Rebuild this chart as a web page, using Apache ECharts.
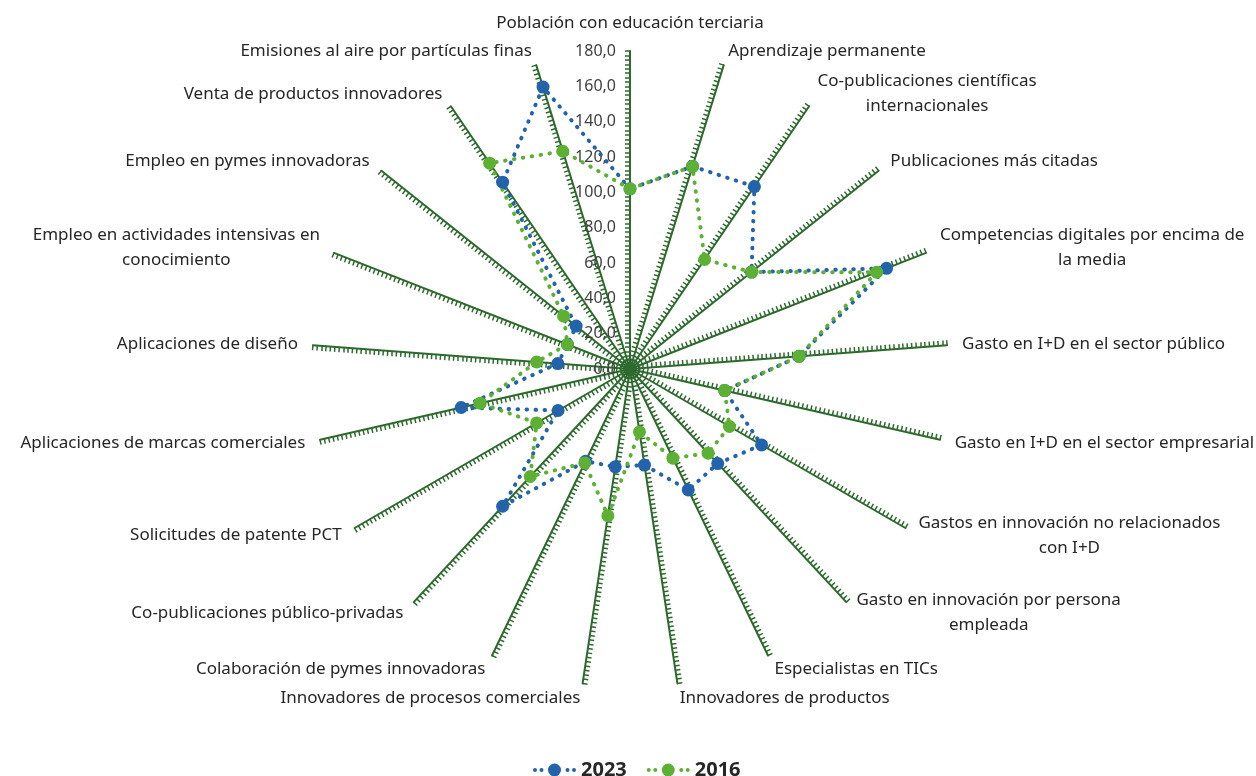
<!DOCTYPE html>
<html>
<head>
<meta charset="utf-8">
<script src="https://cdn.jsdelivr.net/npm/echarts@6/dist/echarts.min.js"></script>
<style>
  html, body { margin: 0; padding: 0; background: #fff; }
  #chart { width: 1256px; height: 776px; }
</style>
</head>
<body>
<div id="chart"></div>
<script>
// indicadores, en sentido horario desde arriba
const indicatorNames = [
  'Población con educación terciaria',
  'Aprendizaje permanente',
  'Co-publicaciones científicas\ninternacionales',
  'Publicaciones más citadas',
  'Competencias digitales por encima de\nla media',
  'Gasto en I+D en el sector público',
  'Gasto en I+D en el sector empresarial',
  'Gastos en innovación no relacionados\ncon I+D',
  'Gasto en innovación por persona\nempleada',
  'Especialistas en TICs',
  'Innovadores de productos',
  'Innovadores de procesos comerciales',
  'Colaboración de pymes innovadoras',
  'Co-publicaciones público-privadas',
  'Solicitudes de patente PCT',
  'Aplicaciones de marcas comerciales',
  'Aplicaciones de diseño',
  'Empleo en actividades intensivas en\nconocimiento',
  'Empleo en pymes innovadoras',
  'Venta de productos innovadores',
  'Emisiones al aire por partículas finas'
];

const values2023 = [102, 120, 125, 88, 156, 96, 55, 86, 73, 76, 55, 56, 58, 106, 47, 98, 41, 38, 39, 128, 167];
const values2016 = [102, 120, 75, 88, 150, 96, 55, 65, 65, 56, 36, 84, 59, 83, 61, 87, 53, 38, 48, 141, 129];

const axisMin = 0;
const axisMax = 180;
const axisSplits = 9;

const seriesNames = ['2023', '2016'];
const seriesColors = ['#2263ab', '#5cb134'];

const axisGreen = '#2d6a2d';
const fontFamily = '"Noto Sans", sans-serif';

// el radar de ECharts va en sentido antihorario: primer eje arriba y el resto al revés
const order = [0].concat(indicatorNames.map((_, i) => i).slice(1).reverse());
const pick = arr => order.map(i => arr[i]);

// icono de leyenda: puntos - círculo - puntos
function dot(cx, cy, r) {
  return 'M' + (cx - r) + ' ' + cy + ' a' + r + ' ' + r + ' 0 1 0 ' + (2 * r) + ' 0 a' + r + ' ' + r + ' 0 1 0 ' + (-2 * r) + ' 0 Z ';
}
const legendIcon = 'path://' + dot(2.5, 7, 2) + dot(9, 7, 2) + dot(22, 7, 6.5) + dot(35, 7, 2) + dot(41.5, 7, 2);

const indicators = pick(indicatorNames).map((name, i) => {
  const ind = {
    name: name,
    min: axisMin,
    max: axisMax,
    minorTick: {
      show: true,
      splitNumber: 8,
      length: 5,
      lineStyle: { color: axisGreen, width: 1.5 }
    }
  };
  if (i === 0) {
    ind.axisLabel = {
      show: true,
      margin: 14,
      color: '#404040',
      fontSize: 16,
      fontFamily: fontFamily,
      formatter: v => v.toFixed(1).replace('.', ',')
    };
  }
  return ind;
});

const chart = echarts.init(document.getElementById('chart'), null, { renderer: 'canvas' });

chart.setOption({
  backgroundColor: '#ffffff',
  animation: false,
  legend: {
    data: seriesNames,
    left: 528,
    top: 755,
    icon: legendIcon,
    itemWidth: 43,
    itemHeight: 13,
    itemGap: 20,
    textStyle: { fontSize: 20, fontWeight: 'bold', color: '#262626', fontFamily: fontFamily }
  },
  radar: {
    center: [630, 369],
    radius: 318,
    startAngle: 90,
    splitNumber: axisSplits,
    shape: 'polygon',
    indicator: indicators,
    axisNameGap: 15,
    axisName: {
      color: '#262626',
      fontSize: 17,
      fontFamily: fontFamily,
      formatter: name => name.split('\n').map(s => '{c|' + s + '}').join('\n'),
      rich: {
        c: { align: 'center', fontSize: 17, lineHeight: 25, color: '#262626', fontFamily: fontFamily }
      }
    },
    axisLine: { show: true, lineStyle: { color: axisGreen, width: 2 } },
    axisTick: { show: true, length: 5, lineStyle: { color: axisGreen, width: 1.5 } },
    axisLabel: { show: false },
    splitLine: { show: false },
    splitArea: { show: false }
  },
  series: [{
    type: 'radar',
    symbol: 'circle',
    symbolSize: 13,
    data: [
      {
        name: seriesNames[0],
        value: pick(values2023),
        itemStyle: { color: seriesColors[0] },
        lineStyle: { color: seriesColors[0], width: 4, type: [0.5, 8.5], cap: 'round' }
      },
      {
        name: seriesNames[1],
        value: pick(values2016),
        itemStyle: { color: seriesColors[1] },
        lineStyle: { color: seriesColors[1], width: 4, type: [0.5, 8.5], cap: 'round' }
      }
    ]
  }]
});
</script>
</body>
</html>
